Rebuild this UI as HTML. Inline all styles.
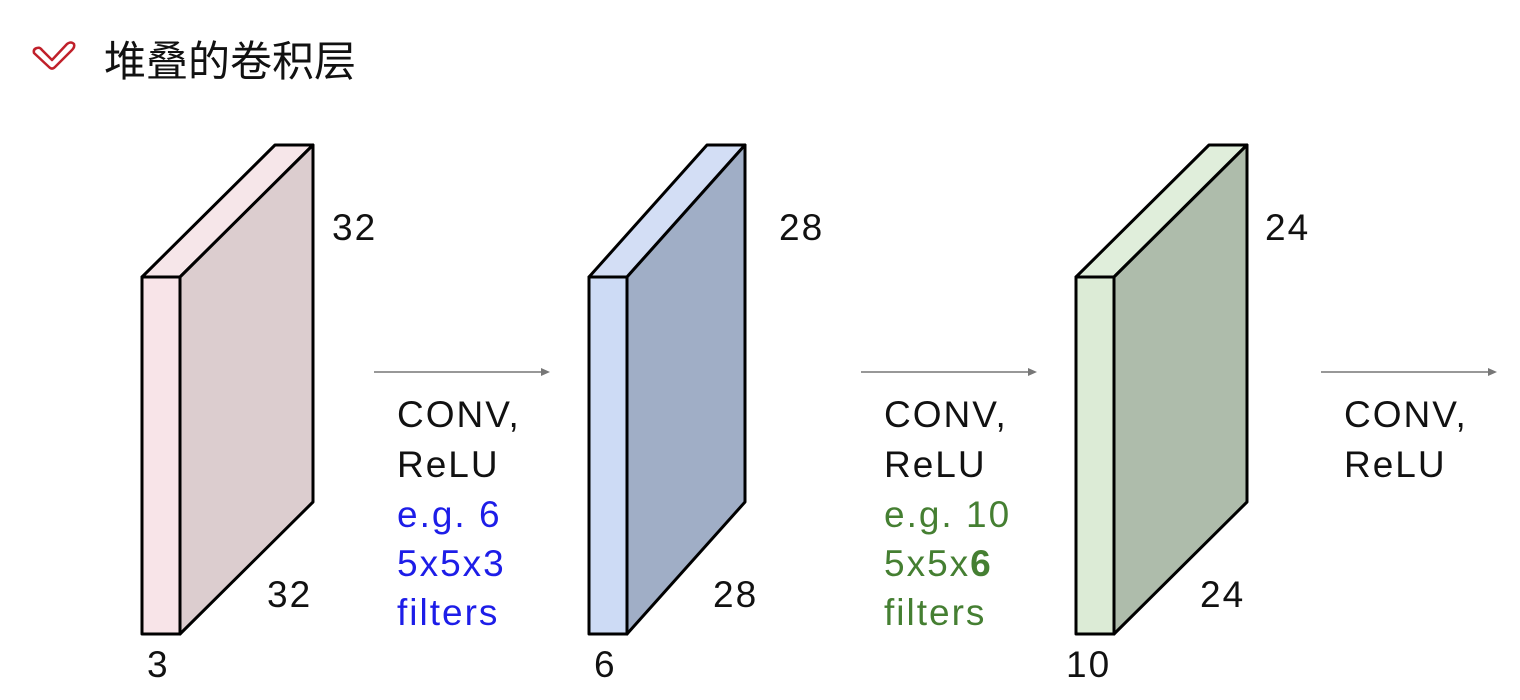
<!DOCTYPE html>
<html><head><meta charset="utf-8"><style>
html,body{margin:0;padding:0;background:#fff;width:1520px;height:700px;overflow:hidden}
svg text{font-family:"Liberation Sans","Noto Sans CJK SC",sans-serif}
</style></head><body>
<svg width="1520" height="700" viewBox="0 0 1520 700">
<g>
<path d="M34,53 Q33,49 37,48 Q40,47 42,50 L52,60 L67,44 Q71,41 74,44 Q75,47 72,50 L55,67 Q52,70 49,67 Z" fill="none" stroke="#c0202a" stroke-width="2.5" stroke-linejoin="round"/>
<text x="104" y="76" font-size="42" fill="#111">堆叠的卷积层</text>
</g>
<g stroke="#000" stroke-width="3" stroke-linejoin="round">
<g>
<polygon points="142,277 180,277 313,145 275,145" fill="#f6e6e9"/>
<polygon points="180,277 313,145 313,502 180,634" fill="#dccdcf"/>
<rect x="142" y="277" width="38" height="357" fill="#f8e4e8"/>
</g>
<g>
<polygon points="589,277 627,277 745,145 707,145" fill="#d3def5"/>
<polygon points="627,277 745,145 745,502 627,634" fill="#a0aec6"/>
<rect x="589" y="277" width="38" height="357" fill="#cddbf5"/>
</g>
<g>
<polygon points="1076,277 1114,277 1247,145 1209,145" fill="#e0eedb"/>
<polygon points="1114,277 1247,145 1247,502 1114,634" fill="#aebcab"/>
<rect x="1076" y="277" width="38" height="357" fill="#dcebd6"/>
</g>
</g>
<g stroke="#777" stroke-width="1.5" fill="#777">
<line x1="374" y1="372" x2="544" y2="372"/><polygon points="550,372 541,368 541,376" stroke="none"/>
<line x1="861" y1="372" x2="1031" y2="372"/><polygon points="1037,372 1028,368 1028,376" stroke="none"/>
<line x1="1321" y1="372" x2="1491" y2="372"/><polygon points="1497,372 1488,368 1488,376" stroke="none"/>
</g>
<g font-size="37" fill="#111" letter-spacing="2">
<text x="332" y="240">32</text>
<text x="267" y="607">32</text>
<text x="147" y="677">3</text>
<text x="779" y="240">28</text>
<text x="713" y="607">28</text>
<text x="594" y="677">6</text>
<text x="1265" y="240">24</text>
<text x="1200" y="607">24</text>
<text x="1066" y="677">10</text>
</g>
<g font-size="37" letter-spacing="2">
<text x="397" y="427" fill="#111">CONV,</text>
<text x="397" y="477" fill="#111">ReLU</text>
<text x="397" y="527" fill="#1d1de8">e.g. 6</text>
<text x="397" y="576" fill="#1d1de8">5x5x3</text>
<text x="397" y="625" fill="#1d1de8">filters</text>
</g>
<g font-size="37" letter-spacing="2">
<text x="884" y="427" fill="#111">CONV,</text>
<text x="884" y="477" fill="#111">ReLU</text>
<text x="884" y="527" fill="#457f32">e.g. 10</text>
<text x="884" y="576" fill="#457f32">5x5x<tspan font-weight="bold">6</tspan></text>
<text x="884" y="625" fill="#457f32">filters</text>
</g>
<g font-size="37" letter-spacing="2">
<text x="1344" y="427" fill="#111">CONV,</text>
<text x="1344" y="477" fill="#111">ReLU</text>
</g>
</svg>
</body></html>
